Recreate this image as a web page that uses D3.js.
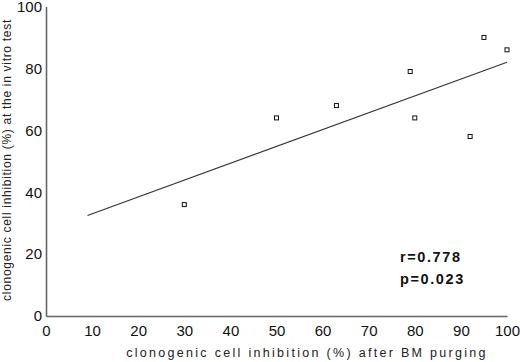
<!DOCTYPE html>
<html>
<head>
<meta charset="utf-8">
<script src="https://cdn.jsdelivr.net/npm/d3@7"></script>
<style>
  body { margin: 0; background: #fff; }
  svg { font-family: "Liberation Sans", Arial, sans-serif; }
</style>
</head>
<body>
<svg id="chart" width="520" height="362"></svg>
<script>
// data
var purgeInhib = [30, 50, 63, 79, 80, 92, 95, 100];
var vitroInhib = [36, 64, 68, 79, 64, 58, 90, 86];
var fitX = [9, 100];
var fitY = [32.5, 82];
var xTicks = [0, 10, 20, 30, 40, 50, 60, 70, 80, 90, 100];
var yTicks = [0, 20, 40, 60, 80, 100];
var statLines = ["r=0.778", "p=0.023"];

var svg = d3.select("#chart");

var x = d3.scaleLinear().domain([0, 100]).range([46, 507]);
var y = d3.scaleLinear().domain([0, 100]).range([316, 6.5]);

// axes, no tick marks
var xAxis = d3.axisBottom(x).tickValues(xTicks).tickSize(0).tickPadding(9);
var yAxis = d3.axisLeft(y).tickValues(yTicks).tickSize(0).tickPadding(4);

var gx = svg.append("g").attr("transform", "translate(0,316)").call(xAxis);
var gy = svg.append("g").attr("transform", "translate(46,0)").call(yAxis);

[gx, gy].forEach(function(g) {
    g.select(".domain").attr("stroke", "#666").attr("stroke-width", 1.6);
    g.selectAll("text").attr("fill", "#111").style("font-size", "15px");
});

svg.append("text")
    .attr("x", 307).attr("y", 357)
    .attr("text-anchor", "middle")
    .style("font-size", "12.5px")
    .style("letter-spacing", "2.3px")
    .attr("fill", "#222")
    .text("clonogenic cell inhibition (%) after BM purging");

svg.append("text")
    .attr("transform", "translate(11,160) rotate(-90)")
    .attr("text-anchor", "middle")
    .style("font-size", "12px")
    .style("letter-spacing", "0.7px")
    .attr("fill", "#222")
    .text("clonogenic cell inhibition (%) at the in vitro test");

// regression line
var fit = fitX.map(function(d, i) { return [d, fitY[i]]; });
svg.append("path")
    .datum(fit)
    .attr("fill", "none")
    .attr("stroke", "#333")
    .attr("stroke-width", 1.1)
    .attr("d", d3.line().x(d => x(d[0])).y(d => y(d[1])));

// points as small open squares
var pts = purgeInhib.map(function(d, i) { return { x: d, y: vitroInhib[i] }; });
svg.selectAll("rect.pt")
    .data(pts)
    .enter().append("rect")
    .attr("class", "pt")
    .attr("x", d => x(d.x) - 2)
    .attr("y", d => y(d.y) - 2)
    .attr("width", 4)
    .attr("height", 4)
    .attr("fill", "#fff")
    .attr("stroke", "#111")
    .attr("stroke-width", 1);

svg.selectAll("text.stat")
    .data(statLines)
    .enter().append("text")
    .attr("class", "stat")
    .attr("x", 400)
    .attr("y", (d, i) => 262 + i * 22)
    .style("font-size", "14.5px")
    .style("font-weight", "bold")
    .style("letter-spacing", "1.6px")
    .attr("fill", "#111")
    .text(d => d);
</script>
</body>
</html>
